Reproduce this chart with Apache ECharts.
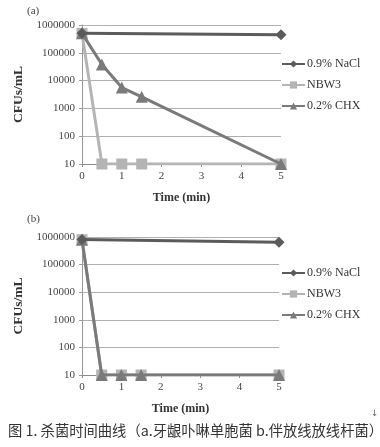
<!DOCTYPE html>
<html>
<head>
<meta charset="utf-8">
<script src="https://cdn.jsdelivr.net/npm/echarts@6/dist/echarts.min.js"></script>
<style>
html,body{margin:0;padding:0;background:#fff;}
#c{width:380px;height:447px;}
</style>
</head>
<body>
<div id="c"></div>
<script>
// Data
const timeA = [0, 0.5, 1, 1.5, 5];
const naclTimeA = [0, 5];
const naclValsA = [500000, 450000];
const nbw3A = [500000, 10, 10, 10, 10];
const chxA = [500000, 38000, 5600, 2600, 10];

const timeB = [0, 0.5, 1, 1.5, 5];
const naclTimeB = [0, 5];
const naclValsB = [820000, 640000];
const nbw3B = [800000, 10, 10, 10, 10];
const chxB = [800000, 10, 10, 10, 10];

const seriesNames = ['0.9% NaCl', 'NBW3', '0.2% CHX'];
const yTicks = [10, 100, 1000, 10000, 100000, 1000000];
const panelLabels = ['(a)', '(b)'];
const xTitle = 'Time (min)';
const yTitle = 'CFUs/mL';
const caption = '图 1. 杀菌时间曲线（a.牙龈卟啉单胞菌 b.伴放线放线杆菌）';

const pair = (xs, ys) => xs.map((x, i) => [x, ys[i]]);

const serif = 'Liberation Serif';
const colNaCl = '#5b5b5b';
const colNBW = '#b4b4b4';
const colCHX = '#7a7a7a';

function xAxis(gi) {
  return {
    type: 'value', gridIndex: gi, min: 0, max: 5, interval: 1,
    name: xTitle, nameLocation: 'middle', nameGap: 28,
    nameTextStyle: { fontFamily: serif, fontWeight: 'bold', fontSize: 12, color: '#333' },
    axisLine: { show: true, lineStyle: { color: '#8a8a8a', width: 1 } },
    axisTick: { show: true, length: 3, lineStyle: { color: '#8a8a8a' } },
    axisLabel: { fontFamily: serif, fontSize: 11, color: '#444', margin: 7 },
    splitLine: { show: false }
  };
}
function yAxis(gi) {
  return {
    type: 'log', logBase: 10, gridIndex: gi, min: 10, max: 1000000,
    name: yTitle, nameLocation: 'middle', nameGap: 44, nameRotate: 90,
    nameTextStyle: { fontFamily: serif, fontWeight: 'bold', fontSize: 13.5, color: '#333' },
    axisLine: { show: true, lineStyle: { color: '#9a9a9a', width: 1 } },
    axisTick: { show: true, length: 3, lineStyle: { color: '#9a9a9a' } },
    axisLabel: { fontFamily: serif, fontSize: 11, color: '#444', margin: 7,
      formatter: v => String(yTicks.reduce((a, b) => Math.abs(b - v) < Math.abs(a - v) ? b : a)) },
    splitLine: { show: true, lineStyle: { color: '#b0b0b0', width: 1 } }
  };
}
function mkSeries(name, data, gi, color, symbol, size, z) {
  return {
    name, type: 'line', xAxisIndex: gi, yAxisIndex: gi, data,
    symbol, symbolSize: size, showSymbol: true,
    lineStyle: { color, width: 3 }, itemStyle: { color },
    z, animation: false
  };
}
function legend(top) {
  return {
    orient: 'vertical', left: 276, top, itemWidth: 23, itemHeight: 9, itemGap: 9,
    textStyle: { fontFamily: serif, fontSize: 12, color: '#333', padding: [0,0,0,-3] },
    data: seriesNames
  };
}

const chart = echarts.init(document.getElementById('c'), null, { renderer: 'canvas' });
chart.setOption({
  backgroundColor: '#fff',
  animation: false,
  grid: [
    { left: 82, top: 25, width: 199, height: 139 },
    { left: 82, top: 237, width: 197, height: 138 }
  ],
  xAxis: [xAxis(0), xAxis(1)],
  yAxis: [yAxis(0), yAxis(1)],
  legend: [legend(53), legend(262)],
  series: [
    mkSeries(seriesNames[1], pair(timeA, nbw3A), 0, colNBW, 'rect', 11, 2),
    mkSeries(seriesNames[2], pair(timeA, chxA), 0, colCHX, 'triangle', 12, 3),
    mkSeries(seriesNames[0], pair(naclTimeA, naclValsA), 0, colNaCl, 'diamond', 11, 4),
    mkSeries(seriesNames[1], pair(timeB, nbw3B), 1, colNBW, 'rect', 11, 2),
    mkSeries(seriesNames[2], pair(timeB, chxB), 1, colCHX, 'triangle', 12, 3),
    mkSeries(seriesNames[0], pair(naclTimeB, naclValsB), 1, colNaCl, 'diamond', 11, 4)
  ],
  graphic: [
    { type: 'text', left: 27, top: 6, style: { text: panelLabels[0], font: '11px ' + serif, fill: '#444' } },
    { type: 'text', left: 27, top: 214, style: { text: panelLabels[1], font: '11px ' + serif, fill: '#444' } },
    { type: 'text', left: 8, top: 423, style: { text: caption, font: '14.3px "Noto Sans CJK SC"', fill: '#333' } },
    { type: 'text', left: 371, top: 409, style: { text: '↓', font: '9px "DejaVu Sans"', fill: '#666' } }
  ]
});
</script>
</body>
</html>
